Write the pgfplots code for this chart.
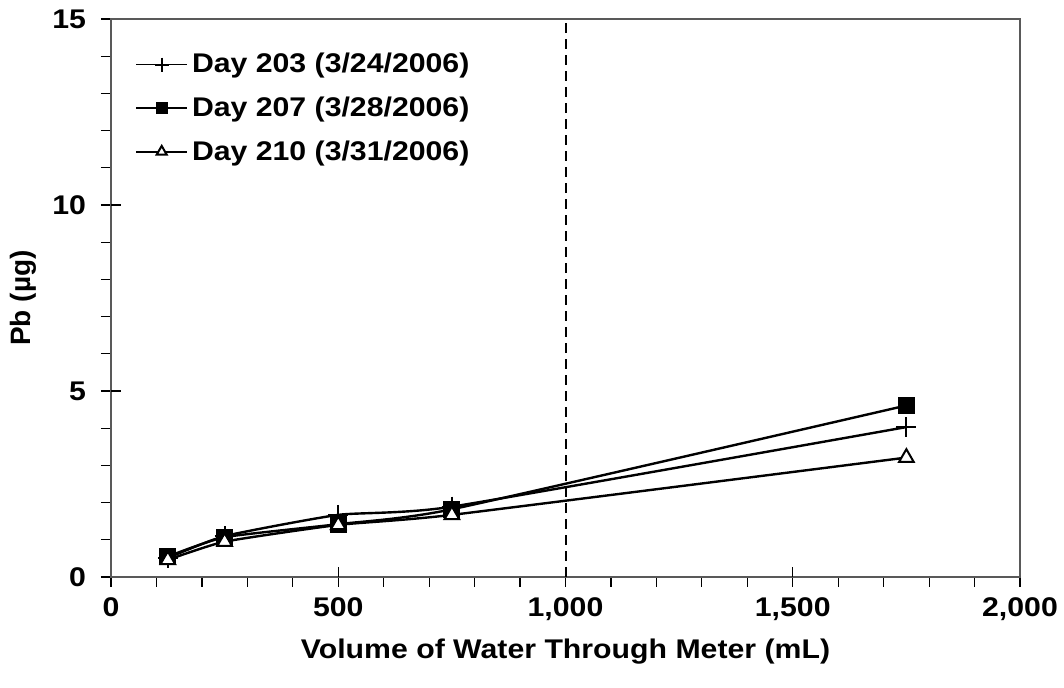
\documentclass[border=0pt]{standalone}
\usepackage{pgfplots}
\pgfplotsset{compat=1.18}
\usepackage{fontspec}
\setmainfont{Liberation Sans}[FakeStretch=1.12]
\newfontfamily\ylfont{Liberation Sans}
\begin{document}
\begin{tikzpicture}
\begin{axis}[
  scale only axis,
  width=454.5pt, height=279pt,
  xmin=0, xmax=2000, ymin=0, ymax=15,
  xtick={0,500,1000,1500,2000},
  ytick={0,5,10,15},
  minor x tick num=4,
  minor y tick num=4,
  xticklabels={\textbf{0},\textbf{500},\textbf{1,000},\textbf{1,500},\textbf{2,000}},
  yticklabels={\textbf{0},\textbf{5},\textbf{10},\textbf{15}},
  tick align=outside,
  major tick length=5pt,
  minor tick length=5pt,
  tick style={black, line width=0.6pt},
  axis line style={black!65, line width=0.8pt},
  xtick pos=bottom, ytick pos=left,
  extra x ticks={500,1000,1500},
  extra x tick labels={},
  extra x tick style={tick align=inside, major tick length=5pt, xticklabel=\empty},
  extra y ticks={5,10},
  extra y tick labels={},
  extra y tick style={tick align=inside, major tick length=5pt, yticklabel=\empty},
  tick label style={font=\fontsize{13.5}{15}\selectfont},
  xticklabel style={yshift=-2pt},
  yticklabel style={xshift=-4pt},
  xlabel={\textbf{Volume of Water Through Meter (mL)}},
  ylabel={\ylfont\bfseries Pb (µg)},
  label style={font=\fontsize{13.5}{15}\selectfont},
  xlabel style={at={(axis description cs:0.5,0)}, anchor=center, yshift=-37.5pt},
  ylabel style={at={(axis description cs:0,0.5)}, anchor=center, yshift=44pt, font=\fontsize{14}{15}\selectfont},
  legend style={draw=none, fill=none, at={(axis description cs:0,1)}, anchor=north west,
    xshift=9pt, yshift=-13pt,
    font=\fontsize{13.5}{15}\selectfont\bfseries, row sep=6.5pt,
    legend cell align=left},
  legend image code/.code={\draw[line width=0.8pt, mark repeat=2, mark phase=2, #1, every mark/.append style={scale=0.7}] plot coordinates {(0pt,0pt) (12.75pt,0pt) (25.5pt,0pt)};},
  every axis plot/.append style={line width=1.2pt, black},
]
\addplot[smooth, tension=0.3, mark=+, mark size=5pt, mark options={line width=1pt}]
  coordinates {(125,0.51) (250,1.10) (500,1.67) (750,1.89) (1750,4.03)};
\addlegendentry{Day 203 (3/24/2006)}
\addplot[smooth, tension=0.3, mark=square*, mark size=3.6pt, mark options={fill=black}]
  coordinates {(125,0.55) (250,1.07) (500,1.42) (750,1.82) (1750,4.61)};
\addlegendentry{Day 207 (3/28/2006)}
\addplot[smooth, tension=0.3, mark=triangle*, mark size=4.2pt, mark options={fill=white, line width=1pt}]
  coordinates {(125,0.46) (250,0.95) (500,1.40) (750,1.67) (1750,3.21)};
\addlegendentry{Day 210 (3/31/2006)}
\draw[black, line width=1pt, dash pattern=on 5pt off 3pt] (axis cs:1000,0) -- (axis cs:1000,15);
\end{axis}
\pgfresetboundingbox
\useasboundingbox (-55.5pt,-55.5pt) rectangle (476.5pt,288.5pt);
\end{tikzpicture}
\end{document}
